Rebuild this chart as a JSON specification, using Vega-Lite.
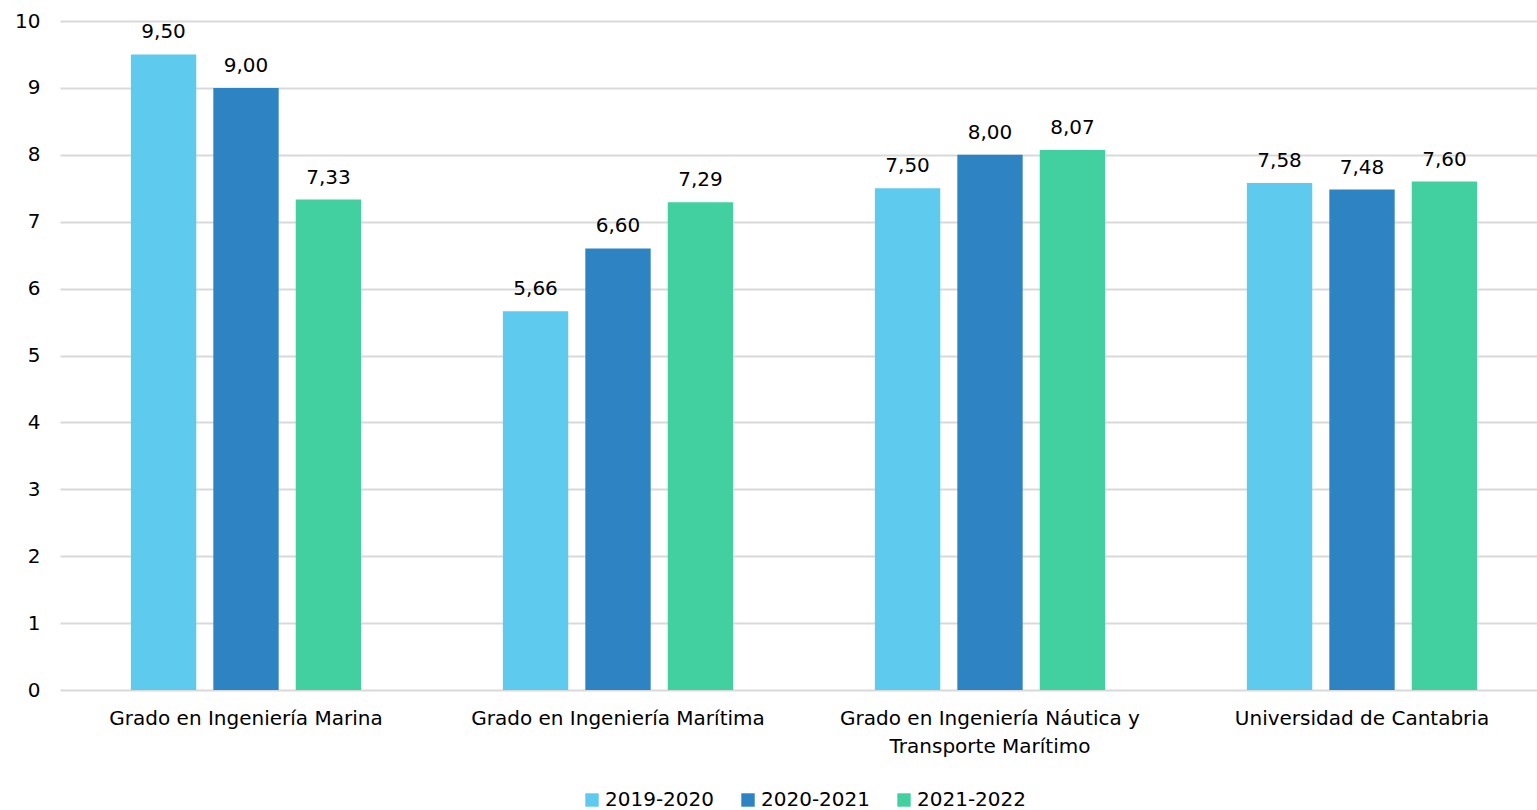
{
  "$schema": "https://vega.github.io/schema/vega-lite/v6.json",
  "width": 1537,
  "height": 810,
  "autosize": {"type": "fit", "contains": "padding"},
  "padding": {"left": 14, "top": 11, "right": -11, "bottom": 0},
  "background": "white",
  "config": {
    "locale": {"number": {"decimal": ",", "thousands": ".", "grouping": [3], "currency": ["", " €"]}},
    "font": "DejaVu Sans",
    "view": {"stroke": null},
    "legend": {"layout": {"bottom": {"anchor": "middle"}}}
  },
  "data": {
    "values": [
      {"cat": "Grado en Ingeniería Marina", "year": "2019-2020", "value": 9.50},
      {"cat": "Grado en Ingeniería Marina", "year": "2020-2021", "value": 9.00},
      {"cat": "Grado en Ingeniería Marina", "year": "2021-2022", "value": 7.33},
      {"cat": "Grado en Ingeniería Marítima", "year": "2019-2020", "value": 5.66},
      {"cat": "Grado en Ingeniería Marítima", "year": "2020-2021", "value": 6.60},
      {"cat": "Grado en Ingeniería Marítima", "year": "2021-2022", "value": 7.29},
      {"cat": "Grado en Ingeniería Náutica y Transporte Marítimo", "year": "2019-2020", "value": 7.50},
      {"cat": "Grado en Ingeniería Náutica y Transporte Marítimo", "year": "2020-2021", "value": 8.00},
      {"cat": "Grado en Ingeniería Náutica y Transporte Marítimo", "year": "2021-2022", "value": 8.07},
      {"cat": "Universidad de Cantabria", "year": "2019-2020", "value": 7.58},
      {"cat": "Universidad de Cantabria", "year": "2020-2021", "value": 7.48},
      {"cat": "Universidad de Cantabria", "year": "2021-2022", "value": 7.60}
    ]
  },
  "encoding": {
    "x": {
      "field": "cat",
      "type": "nominal",
      "sort": null,
      "scale": {"paddingInner": 0, "paddingOuter": 0},
      "axis": {
        "title": null,
        "labelAngle": 0,
        "labelFontSize": 20,
        "labelColor": "#000000",
        "labelPadding": 18,
        "labelLimit": 0,
        "labelLineHeight": 28,
        "labelExpr": "datum.label == 'Grado en Ingeniería Náutica y Transporte Marítimo' ? ['Grado en Ingeniería Náutica y', 'Transporte Marítimo'] : datum.label",
        "ticks": false,
        "domain": false,
        "grid": false
      }
    },
    "xOffset": {
      "field": "year",
      "type": "nominal",
      "scale": {"paddingInner": 0.207, "paddingOuter": 0.86}
    },
    "y": {
      "field": "value",
      "type": "quantitative",
      "scale": {"domain": [0, 10]},
      "axis": {
        "title": null,
        "tickCount": 10,
        "labelFontSize": 20,
        "labelColor": "#000000",
        "labelPadding": 20,
        "ticks": false,
        "domain": false,
        "gridColor": "#d9d9d9",
        "gridWidth": 2
      }
    }
  },
  "layer": [
    {
      "mark": {"type": "bar"},
      "encoding": {
        "color": {
          "field": "year",
          "type": "nominal",
          "scale": {"domain": ["2019-2020", "2020-2021", "2021-2022"], "range": ["#5ECBEE", "#2E83C3", "#42D0A1"]},
          "legend": {
            "title": null,
            "orient": "bottom",
            "direction": "horizontal",
            "symbolType": "square",
            "symbolSize": 180,
            "symbolStrokeWidth": 0,
            "labelFontSize": 20,
            "labelColor": "#000000",
            "labelOffset": 3,
            "columnPadding": 23,
            "offset": 34
          }
        }
      }
    },
    {
      "mark": {"type": "text", "baseline": "bottom", "dy": -12, "fontSize": 20, "color": "#000000"},
      "encoding": {
        "text": {"field": "value", "type": "quantitative", "format": ".2f"}
      }
    }
  ]
}
